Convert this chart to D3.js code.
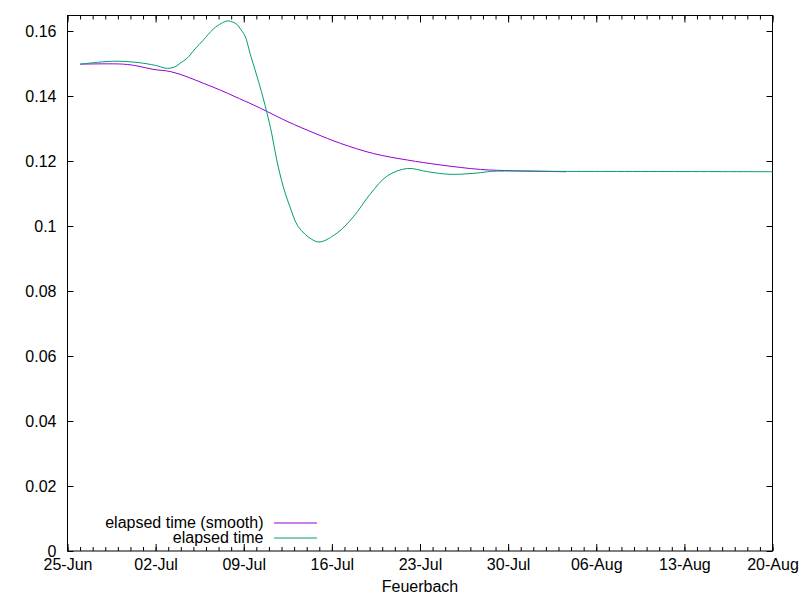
<!DOCTYPE html>
<html>
<head>
<meta charset="utf-8">
<script src="https://cdn.jsdelivr.net/npm/d3@7"></script>
<style>
  body { margin: 0; background: #fff; }
  text { font-family: "Liberation Sans", Arial, sans-serif; }
</style>
</head>
<body>
<div class="plot"></div>
<script>
// values, x = days after 25-Jun
const smoothDays = [1.0, 4.45, 5.6, 6.8, 8.2, 9.5, 10.8, 12.15, 13.3, 14.8, 15.87, 17.5, 19.66, 21.7, 24.3, 27.0, 29.6, 32.8, 35.4, 39.6];
const smoothVals = [0.1498, 0.1498, 0.1492, 0.1482, 0.1475, 0.1459, 0.1439, 0.1418, 0.1398, 0.1372, 0.1352, 0.1321, 0.1285, 0.1254, 0.1223, 0.1203, 0.1188, 0.1174, 0.1170, 0.1167];

const rawDays = [1.0, 2.0, 3.65, 5.6, 7.0, 7.94, 8.6, 8.94, 9.47, 10.13, 10.79, 11.58, 12.25, 12.77, 13.44, 13.7, 14.1, 14.5, 14.9, 15.29, 15.82, 16.22, 16.62, 17.14, 17.67, 18.33, 19.4, 20.06, 21.4, 22.7, 24.1, 25.4, 27.0, 28.6, 30.4, 32.8, 33.6, 40, 56];
const rawVals = [0.1498, 0.1502, 0.1507, 0.1503, 0.1494, 0.1485, 0.1491, 0.1501, 0.1515, 0.1545, 0.1572, 0.1606, 0.1624, 0.1631, 0.1621, 0.1608, 0.1585, 0.1531, 0.1480, 0.1429, 0.1352, 0.1285, 0.1203, 0.1121, 0.1059, 0.0998, 0.0959, 0.0951, 0.0978, 0.1028, 0.1101, 0.1154, 0.1177, 0.1167, 0.1159, 0.1164, 0.1168, 0.1168, 0.1167];

const xTickLabels = ["25-Jun", "02-Jul", "09-Jul", "16-Jul", "23-Jul", "30-Jul", "06-Aug", "13-Aug", "20-Aug"];
const yTicks = [0, 0.02, 0.04, 0.06, 0.08, 0.1, 0.12, 0.14, 0.16];
const yTickLabels = ["0", "0.02", "0.04", "0.06", "0.08", "0.1", "0.12", "0.14", "0.16"];
const seriesNames = ["elapsed time (smooth)", "elapsed time"];
const seriesColors = ["#9400d3", "#009e73"];

const width = 800, height = 600,
    margin = {top: 15.5, right: 27.5, bottom: 49, left: 67.5},
    innerWidth = width - margin.left - margin.right,
    innerHeight = height - margin.top - margin.bottom;

const start = Date.UTC(2021, 5, 25);
const day = 864e5;
const toDate = d => new Date(start + d * day);

const svg = d3.select(".plot").append("svg")
    .attr("width", width)
    .attr("height", height)
    .append("g")
    .attr("transform", "translate(" + margin.left + "," + margin.top + ")");

const xScale = d3.scaleUtc()
    .domain([toDate(0), toDate(56)])
    .range([0, innerWidth]);
const yScale = d3.scaleLinear()
    .domain([0, 0.16477])
    .range([innerHeight, 0]);

const majorDates = xTickLabels.map((l, i) => toDate(i * 7));
const minorDates = d3.range(0, 57).map(toDate);

// minor ticks, bottom and top
svg.append("g")
    .attr("transform", "translate(0," + innerHeight + ")")
    .call(d3.axisBottom(xScale).tickValues(minorDates).tickSize(-4).tickFormat(""));
svg.append("g")
    .call(d3.axisTop(xScale).tickValues(minorDates).tickSize(-4).tickFormat(""));

// x axis
svg.append("g")
    .attr("class", "xaxis")
    .attr("transform", "translate(0," + innerHeight + ")")
    .call(d3.axisBottom(xScale).tickValues(majorDates).tickSize(-7).tickPadding(8)
        .tickFormat((d, i) => xTickLabels[i]));
svg.append("g")
    .call(d3.axisTop(xScale).tickValues(majorDates).tickSize(-7).tickFormat(""));

// y axis
svg.append("g")
    .attr("class", "yaxis")
    .call(d3.axisLeft(yScale).tickValues(yTicks).tickSize(-6).tickPadding(11)
        .tickFormat((d, i) => yTickLabels[i]));
svg.append("g")
    .attr("transform", "translate(" + innerWidth + ",0)")
    .call(d3.axisRight(yScale).tickValues(yTicks).tickSize(-6).tickFormat(""));

svg.selectAll(".domain").remove();
svg.selectAll(".tick text").filter(function() { return this.textContent === ""; }).remove();
svg.selectAll(".tick line").attr("stroke", "#000");
svg.selectAll(".tick text")
    .attr("fill", "#000")
    .style("font-size", "16px");

// border
svg.append("rect")
    .attr("width", innerWidth)
    .attr("height", innerHeight)
    .attr("fill", "none")
    .attr("stroke", "#000");

// x label
svg.append("text")
    .attr("x", innerWidth / 2)
    .attr("y", innerHeight + 41)
    .attr("text-anchor", "middle")
    .style("font-size", "16px")
    .text("Feuerbach");

const line = d3.line()
    .x(d => xScale(toDate(d[0])))
    .y(d => yScale(d[1]))
    .curve(d3.curveCatmullRom.alpha(0.5));

const series = [
    d3.zip(smoothDays, smoothVals),
    d3.zip(rawDays, rawVals)
];

svg.append("g").selectAll("path").data(series).enter()
    .append("path")
    .attr("d", line)
    .attr("fill", "none")
    .attr("stroke", (d, i) => seriesColors[i])
    .attr("stroke-width", 1);

// legend
const legend = svg.append("g")
    .attr("transform", "translate(0," + (innerHeight - 28) + ")");
seriesNames.forEach(function(name, i) {
    const y = i * 15;
    legend.append("text")
        .attr("x", 196)
        .attr("y", y)
        .attr("dy", "0.32em")
        .attr("text-anchor", "end")
        .style("font-size", "16px")
        .text(name);
    legend.append("line")
        .attr("x1", 206.5)
        .attr("x2", 249.5)
        .attr("y1", y)
        .attr("y2", y)
        .attr("stroke", seriesColors[i])
        .attr("stroke-width", 1);
});
</script>
</body>
</html>
